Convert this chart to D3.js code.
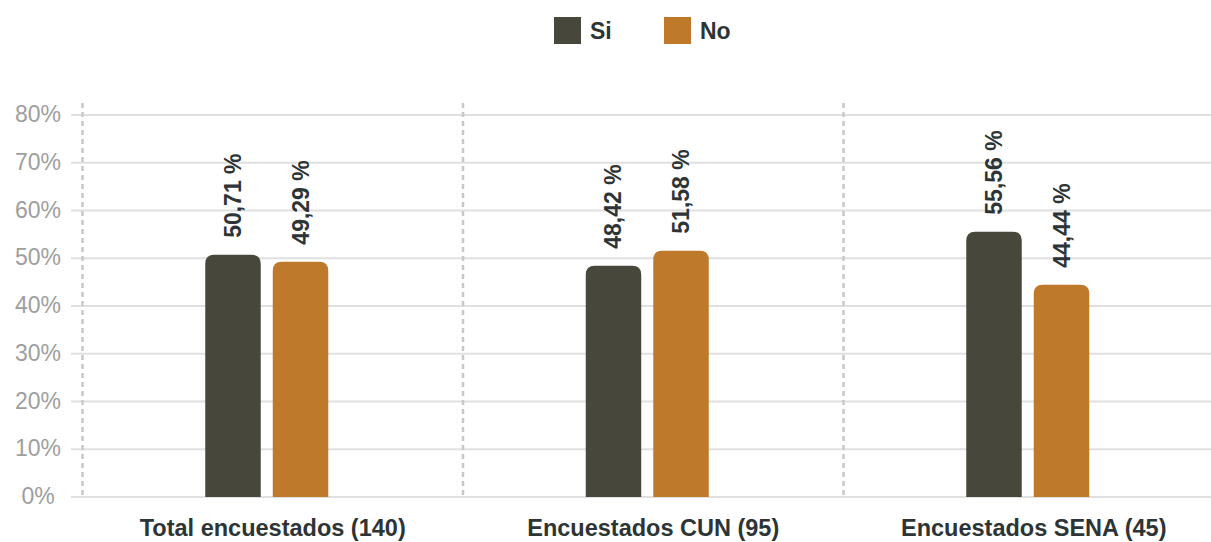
<!DOCTYPE html>
<html>
<head>
<meta charset="utf-8">
<script src="https://cdn.jsdelivr.net/npm/d3@7"></script>
<style>
  body { margin: 0; background: #fff; }
  svg { display: block; font-family: "Liberation Sans", Arial, Helvetica, sans-serif; }
</style>
</head>
<body>
<div id="chart"></div>
<script>
// Chart data
const categories = ["Total encuestados (140)", "Encuestados CUN (95)", "Encuestados SENA (45)"];
const seriesNames = ["Si", "No"];
const siValues = [50.71, 48.42, 55.56];
const noValues = [49.29, 51.58, 44.44];
const yTicks = [0, 10, 20, 30, 40, 50, 60, 70, 80];

const width = 1211;
const height = 542;
const colors = { Si: "#47473b", No: "#bf792b" };
const textColor = "#2d3436";

const svg = d3.select("#chart")
  .append("svg")
  .attr("width", width)
  .attr("height", height);

// Scales
const x = d3.scaleBand()
  .domain(categories)
  .range([82.5, 1224]);

const y = d3.scaleLinear()
  .domain([0, 80])
  .range([497, 115]);

const inner = d3.scaleBand()
  .domain(seriesNames)
  .range([-61.5, 61.5])
  .paddingInner(0.178);

// Horizontal gridlines
svg.append("g")
  .selectAll("line")
  .data(yTicks)
  .join("line")
  .attr("x1", 71)
  .attr("x2", width)
  .attr("y1", d => y(d))
  .attr("y2", d => y(d))
  .attr("stroke", "#e0e0e0")
  .attr("stroke-width", 2);

// Y tick labels
svg.append("g")
  .selectAll("text")
  .data(yTicks)
  .join("text")
  .attr("x", 38)
  .attr("y", d => y(d) + 7)
  .attr("text-anchor", "middle")
  .attr("fill", "#9e9e9e")
  .style("font-size", "23px")
  .text(d => d + "%");

// Dashed category separators
svg.append("g")
  .selectAll("line")
  .data(categories)
  .join("line")
  .attr("x1", d => x(d))
  .attr("x2", d => x(d))
  .attr("y1", 103)
  .attr("y2", y(0))
  .attr("stroke", "#c8c8c8")
  .attr("stroke-width", 2.5)
  .attr("stroke-dasharray", "5,4");

// Bars with rounded tops
const rows = categories.map((c, i) => [
  { cat: c, key: "Si", value: siValues[i] },
  { cat: c, key: "No", value: noValues[i] }
]).flat();

function topRounded(x0, y0, w, h, r) {
  return `M${x0},${y0 + h}V${y0 + r}Q${x0},${y0} ${x0 + r},${y0}H${x0 + w - r}Q${x0 + w},${y0} ${x0 + w},${y0 + r}V${y0 + h}Z`;
}

const groupShift = -6;
const barCx = d => x(d.cat) + x.bandwidth() / 2 + groupShift + inner(d.key) + inner.bandwidth() / 2;

svg.append("g")
  .selectAll("path")
  .data(rows)
  .join("path")
  .attr("d", d => {
    const x0 = barCx(d) - inner.bandwidth() / 2;
    return topRounded(x0, y(d.value), inner.bandwidth(), y(0) - y(d.value), 9);
  })
  .attr("fill", d => colors[d.key]);

// Value labels (rotated)
svg.append("g")
  .selectAll("text")
  .data(rows)
  .join("text")
  .attr("transform", d => `translate(${barCx(d) + 8},${y(d.value) - 17}) rotate(-90)`)
  .attr("text-anchor", "start")
  .attr("fill", textColor)
  .style("font-size", "23px")
  .style("font-weight", "bold")
  .text(d => d3.format(".2f")(d.value).replace(".", ",") + " %");

// Category labels
svg.append("g")
  .selectAll("text")
  .data(categories)
  .join("text")
  .attr("x", d => x(d) + x.bandwidth() / 2)
  .attr("y", 536)
  .attr("text-anchor", "middle")
  .attr("fill", textColor)
  .style("font-size", "23.5px")
  .style("font-weight", "bold")
  .text(d => d);

// Legend
const legend = svg.append("g")
  .selectAll("g")
  .data(seriesNames)
  .join("g")
  .attr("transform", (d, i) => `translate(${554 + i * 110}, 17)`);

legend.append("rect")
  .attr("width", 27)
  .attr("height", 27)
  .attr("fill", d => colors[d]);

legend.append("text")
  .attr("x", 36)
  .attr("y", 22)
  .attr("fill", textColor)
  .style("font-size", "23px")
  .style("font-weight", "bold")
  .text(d => d);
</script>
</body>
</html>
